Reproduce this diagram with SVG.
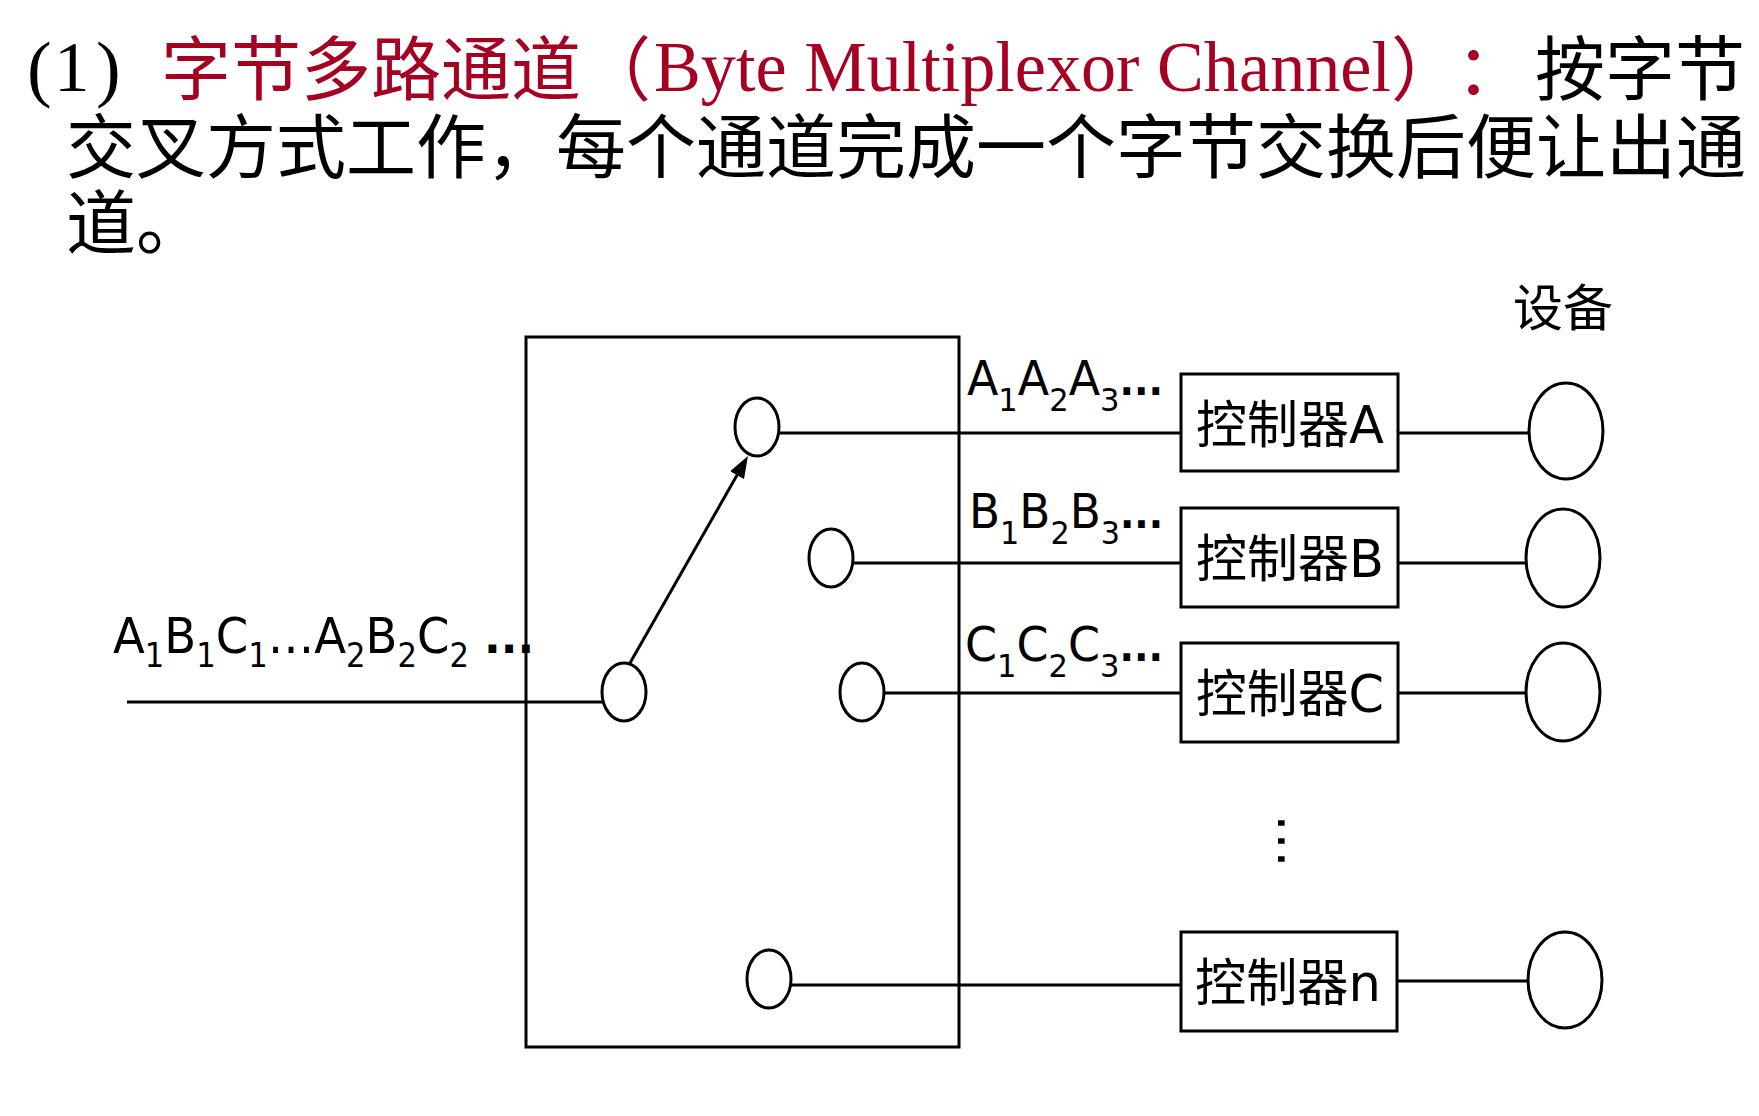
<svg xmlns="http://www.w3.org/2000/svg" width="1759" height="1116" viewBox="0 0 1759 1116">
<style>
.ln{stroke:#000;stroke-width:3;fill:none}
.el{fill:#fff;stroke:#000;stroke-width:3}
.box{fill:#fff;stroke:#000;stroke-width:3}
.frame{fill:none;stroke:#000;stroke-width:3}
.cjk{font-family:"Noto Sans CJK SC",sans-serif;font-size:70px;fill:#000}
.serif{font-family:"Liberation Serif","Noto Sans CJK SC",serif;font-size:71px;fill:#000}
.red{fill:#A50021}
.lbl{font-family:"DejaVu Sans","Noto Sans CJK SC",sans-serif;fill:#000}
.ctl{font-family:"DejaVu Sans","Noto Sans CJK SC",sans-serif;font-size:51px;fill:#000}
</style>
<defs>
<marker id="arr" markerUnits="userSpaceOnUse" markerWidth="22" markerHeight="16" refX="11" refY="8" orient="auto">
<path d="M0,0 L22,8 L0,16 Z" fill="#000"/>
</marker>
</defs>
<rect width="1759" height="1116" fill="#fff"/>

<g id="title">
<text x="27" y="93" class="serif" font-size="74" style="font-size:74px">(</text>
<text x="54" y="91" class="serif">1</text>
<text x="96" y="93" class="serif" font-size="74" style="font-size:74px">)</text>
<text x="161" y="95" class="cjk red">字节多路通道（</text>
<text x="654" y="91" class="serif red" textLength="737" lengthAdjust="spacingAndGlyphs">Byte Multiplexor Channel</text>
<text x="1391" y="95" class="cjk red">）</text>
<text x="1456" y="95" class="cjk red">：</text>
<text x="1535" y="95" class="cjk">按字节</text>
<text x="66" y="173" class="cjk">交叉方式工作，每个通道完成一个字节交换后便让出通</text>
<text x="66" y="249" class="cjk">道。</text>
</g>

<g id="switch-box">
<rect class="frame" x="526" y="337" width="433" height="710"/>
</g>

<g id="connectors">
<line class="ln" x1="127" y1="702" x2="604" y2="702"/>
<line class="ln" x1="630" y1="663" x2="742.5" y2="465.6" marker-end="url(#arr)"/>
<line class="ln" x1="778" y1="433" x2="1181" y2="433"/>
<line class="ln" x1="852" y1="563" x2="1181" y2="563"/>
<line class="ln" x1="883" y1="693" x2="1181" y2="693"/>
<line class="ln" x1="790" y1="985" x2="1181" y2="985"/>
<line class="ln" x1="1398" y1="433" x2="1530" y2="433"/>
<line class="ln" x1="1398" y1="563" x2="1527" y2="563"/>
<line class="ln" x1="1398" y1="693" x2="1527" y2="693"/>
<line class="ln" x1="1397" y1="981" x2="1528" y2="981"/>
</g>

<g id="input-label">
<text class="lbl" x="113" y="653" font-size="50" textLength="356" lengthAdjust="spacingAndGlyphs">A<tspan font-size="33" dy="14">1</tspan><tspan dy="-14">B</tspan><tspan font-size="33" dy="14">1</tspan><tspan dy="-14">C</tspan><tspan font-size="33" dy="14">1</tspan><tspan dy="-14">…A</tspan><tspan font-size="33" dy="14">2</tspan><tspan dy="-14">B</tspan><tspan font-size="33" dy="14">2</tspan><tspan dy="-14">C</tspan><tspan font-size="33" dy="14">2</tspan></text>
<text class="lbl" x="484" y="653" font-size="44" font-weight="bold">...</text>
</g>

<g id="pivot"><ellipse class="el" cx="624" cy="692" rx="22" ry="29"/></g>
<g id="contact-a"><ellipse class="el" cx="757" cy="427" rx="22" ry="29"/></g>
<g id="contact-b"><ellipse class="el" cx="831" cy="558" rx="22" ry="29"/></g>
<g id="contact-c"><ellipse class="el" cx="862" cy="692" rx="22" ry="29"/></g>
<g id="contact-n"><ellipse class="el" cx="769" cy="979" rx="22" ry="29"/></g>

<g id="label-a"><text class="lbl" x="967" y="395" font-size="48" textLength="196" lengthAdjust="spacingAndGlyphs">A<tspan font-size="32" dy="16">1</tspan><tspan dy="-16">A</tspan><tspan font-size="32" dy="16">2</tspan><tspan dy="-16">A</tspan><tspan font-size="32" dy="16">3</tspan><tspan dy="-16" font-size="40" font-weight="bold">...</tspan></text></g>
<g id="label-b"><text class="lbl" x="969" y="528" font-size="48" textLength="194" lengthAdjust="spacingAndGlyphs">B<tspan font-size="32" dy="16">1</tspan><tspan dy="-16">B</tspan><tspan font-size="32" dy="16">2</tspan><tspan dy="-16">B</tspan><tspan font-size="32" dy="16">3</tspan><tspan dy="-16" font-size="40" font-weight="bold">...</tspan></text></g>
<g id="label-c"><text class="lbl" x="965" y="661" font-size="48" textLength="198" lengthAdjust="spacingAndGlyphs">C<tspan font-size="32" dy="16">1</tspan><tspan dy="-16">C</tspan><tspan font-size="32" dy="16">2</tspan><tspan dy="-16">C</tspan><tspan font-size="32" dy="16">3</tspan><tspan dy="-16" font-size="40" font-weight="bold">...</tspan></text></g>

<g id="controller-a"><rect class="box" x="1181" y="374" width="217" height="97"/><text class="ctl" x="1196" y="443" textLength="188" lengthAdjust="spacingAndGlyphs">控制器A</text></g>
<g id="controller-b"><rect class="box" x="1181" y="508" width="217" height="99"/><text class="ctl" x="1196" y="577" textLength="188" lengthAdjust="spacingAndGlyphs">控制器B</text></g>
<g id="controller-c"><rect class="box" x="1181" y="643" width="217" height="99"/><text class="ctl" x="1196" y="712" textLength="188" lengthAdjust="spacingAndGlyphs">控制器C</text></g>
<g id="controller-n"><rect class="box" x="1181" y="932" width="216" height="99"/><text class="ctl" x="1195" y="1001" textLength="186" lengthAdjust="spacingAndGlyphs">控制器n</text></g>

<g id="ellipsis"><text class="lbl" font-size="54" text-anchor="middle" transform="translate(1278,841) rotate(90)">…</text></g>

<g id="device-title"><text class="cjk" x="1513" y="326" style="font-size:50px">设备</text></g>
<g id="device-a"><ellipse class="el" cx="1566" cy="431" rx="37" ry="48"/></g>
<g id="device-b"><ellipse class="el" cx="1563" cy="558" rx="37" ry="49"/></g>
<g id="device-c"><ellipse class="el" cx="1563" cy="692" rx="37" ry="49"/></g>
<g id="device-n"><ellipse class="el" cx="1565" cy="980" rx="37" ry="48"/></g>
</svg>
